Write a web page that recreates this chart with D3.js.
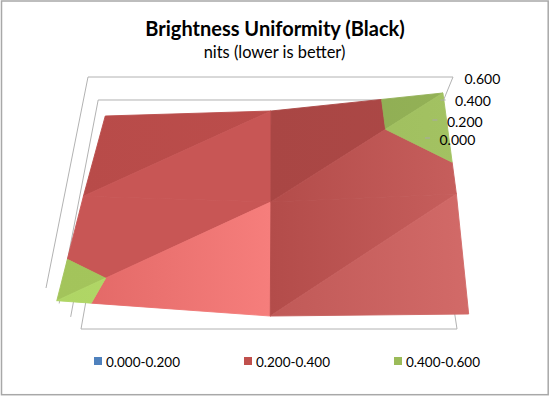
<!DOCTYPE html>
<html>
<head>
<meta charset="utf-8">
<script src="https://cdn.jsdelivr.net/npm/d3@7"></script>
<style>
	html, body { margin: 0; padding: 0; background: #fff; }
	svg { display: block; }
	text { font-family: Lato, "Open Sans", sans-serif; fill: #000; }
</style>
</head>
<body>
<div id="chart"></div>
<script>
const svgWidth = 550;
const svgHeight = 396;

// surface values, rows run front to back, columns left to right
const rowFront = [0.436, 0.213, 0.243];
const rowMiddle = [0.345, 0.278, 0.372];
const rowBack = [0.24, 0.29, 0.461];
const surface = [rowFront, rowMiddle, rowBack];

const zTicks = [0, 0.2, 0.4, 0.6];
const zTickLabels = ["0.000", "0.200", "0.400", "0.600"];
const bandLabels = ["0.000-0.200", "0.200-0.400", "0.400-0.600"];
const bandLimits = [[0, 0.2], [0.2, 0.4], [0.4, 0.6]];

// corners of the 3d box as they land on screen
const floorBox = { fl: [81, 329], fr: [457, 329], bl: [115, 138], br: [428, 138] };
const topBox = { fl: [46, 288], fr: [500, 288], bl: [88, 77], br: [453, 77] };

const colScale = d3.scaleLinear().domain([0, 1, 2]).range([0, 0.5, 0.99]);
const rowScale = d3.scaleLinear().domain([0, 1, 2]).range([0, 0.55, 1]);
// perspective stretches the upper part of the value axis
const zScale = d3.scaleLinear().domain(zTicks).range([0, 0.295, 0.623, 1]);

const bilerp = (box, u, v) => {
	const front = d3.interpolate(box.fl, box.fr)(u);
	const back = d3.interpolate(box.bl, box.br)(u);
	return d3.interpolate(front, back)(v);
};

const projectUV = (u, v, z) => {
	const t = zScale(z);
	const a = bilerp(floorBox, u, v);
	const b = bilerp(topBox, u, v);
	return { x: a[0] + (b[0] - a[0]) * t, y: a[1] + (b[1] - a[1]) * t, z };
};

const vertex = (col, row) =>
	projectUV(colScale(col), rowScale(row), surface[row][col]);

// triangles of the surface with their shading, left and right end of a gradient
const facets = [
	{ cells: [[0, 2], [1, 2], [0, 1]], red: ["#b84b49", "#bb4d4b"], green: ["#a0c05b", "#a0c05b"] },
	{ cells: [[1, 2], [1, 1], [0, 1]], red: ["#c85655", "#c85655"], green: ["#a3c35c", "#a3c35c"] },
	{ cells: [[0, 1], [1, 1], [0, 0]], red: ["#c85655", "#c85655"], green: ["#a3c45b", "#a5c65d"] },
	{ cells: [[0, 0], [1, 1], [1, 0]], red: ["#e06664", "#f67e7c"], green: ["#afd565", "#b4da68"] },
	{ cells: [[1, 2], [2, 2], [1, 1]], red: ["#a94644", "#ac4846"], green: ["#8dab52", "#93b156"] },
	{ cells: [[2, 2], [2, 1], [1, 1]], red: ["#b34c4a", "#c65e5c"], green: ["#9dbc5c", "#a3c262"] },
	{ cells: [[1, 1], [2, 1], [1, 0]], red: ["#b34c4a", "#c65e5c"], green: ["#9bbb59", "#9bbb59"] },
	{ cells: [[1, 0], [2, 1], [2, 0]], red: ["#c05957", "#d26a68"], green: ["#9bbb59", "#9bbb59"] },
];

// keep the part of a polygon on one side of a level
const clipAt = (poly, level, keepAbove) => {
	const inside = (p) => (keepAbove ? p.z >= level : p.z <= level);
	const out = [];
	poly.forEach((p, i) => {
		const q = poly[(i + 1) % poly.length];
		if (inside(p)) out.push(p);
		if (inside(p) !== inside(q)) {
			const f = (level - p.z) / (q.z - p.z);
			out.push({ x: p.x + (q.x - p.x) * f, y: p.y + (q.y - p.y) * f, z: level });
		}
	});
	return out;
};

const svg = d3
	.select("#chart")
	.append("svg")
	.attr("width", svgWidth)
	.attr("height", svgHeight)
	.attr("viewBox", `0 0 ${svgWidth} ${svgHeight}`);

const defs = svg.append("defs");

svg
	.append("rect")
	.attr("x", 1.5)
	.attr("y", 1)
	.attr("width", 546.7)
	.attr("height", 393.7)
	.attr("fill", "#fff")
	.attr("stroke", "#a8a8a8")
	.attr("stroke-width", 1.5);

svg
	.append("text")
	.attr("x", 275)
	.attr("y", 36)
	.attr("text-anchor", "middle")
	.style("font-size", "20px")
	.style("font-weight", 700)
	.text("Brightness Uniformity (Black)");

svg
	.append("text")
	.attr("x", 274.5)
	.attr("y", 58)
	.attr("text-anchor", "middle")
	.style("font-size", "16.4px")
	.text("nits (lower is better)");

// walls and floor, behind the surface
const line = d3.line().x((d) => d.x).y((d) => d.y);
const walls = svg.append("g").attr("fill", "none").attr("stroke", "#b2b2b2").attr("stroke-width", 1);

zTicks.forEach((z) => {
	walls
		.append("path")
		.attr("d", line([projectUV(0, 0, z), projectUV(0, 1, z), projectUV(1, 1, z)]));
});
walls
	.append("path")
	.attr("d", line([projectUV(0, 0, 0), projectUV(1, 0, 0), projectUV(1, 1, 0)]));
walls.append("path").attr("d", line([projectUV(1, 1, 0), projectUV(1, 1, 0.6)]));

// surface
const surfaceG = svg.append("g");
facets.forEach((facet, i) => {
	const tri = facet.cells.map(([c, r]) => vertex(c, r));
	const [x0, x1] = d3.extent(tri, (d) => d.x);
	bandLimits.forEach(([lo, hi], b) => {
		const part = clipAt(clipAt(tri, lo, true), hi, false);
		if (part.length < 3) return;
		const shades = b === 2 ? facet.green : facet.red;
		const id = `facet-${i}-${b}`;
		const grad = defs
			.append("linearGradient")
			.attr("id", id)
			.attr("gradientUnits", "userSpaceOnUse")
			.attr("x1", x0)
			.attr("x2", x1)
			.attr("y1", 0)
			.attr("y2", 0);
		grad.append("stop").attr("offset", 0).attr("stop-color", shades[0]);
		grad.append("stop").attr("offset", 1).attr("stop-color", shades[1]);
		surfaceG
			.append("path")
			.attr("d", line(part) + "Z")
			.attr("fill", `url(#${id})`)
			.attr("stroke", `url(#${id})`)
			.attr("stroke-width", 0.9)
			.attr("stroke-linejoin", "round");
	});
});

// value axis on the back right corner
const axisG = svg.append("g");
zTicks.forEach((z, i) => {
	const p = projectUV(1, 1, z);
	axisG
		.append("line")
		.attr("x1", p.x - 3)
		.attr("x2", p.x + 2)
		.attr("y1", p.y)
		.attr("y2", p.y)
		.attr("stroke", "#a8a8a8")
		.attr("opacity", z === 0.6 ? 0 : 1);
	axisG
		.append("text")
		.attr("x", p.x + 11.5)
		.attr("y", p.y + 6.5)
		.style("font-size", "14px")
		.text(zTickLabels[i]);
});

// legend
const legendColors = ["#4f81bd", "#c0504d", "#9bbb59"];
const legendX = d3.scaleOrdinal().domain(bandLabels).range([94, 244, 394]);
const legend = svg.append("g");
bandLabels.forEach((label, i) => {
	legend
		.append("rect")
		.attr("x", legendX(label))
		.attr("y", 357)
		.attr("width", 8)
		.attr("height", 8)
		.attr("fill", legendColors[i]);
	legend
		.append("text")
		.attr("x", legendX(label) + 12)
		.attr("y", 367)
		.style("font-size", "13.5px")
		.text(label);
});
</script>
</body>
</html>
